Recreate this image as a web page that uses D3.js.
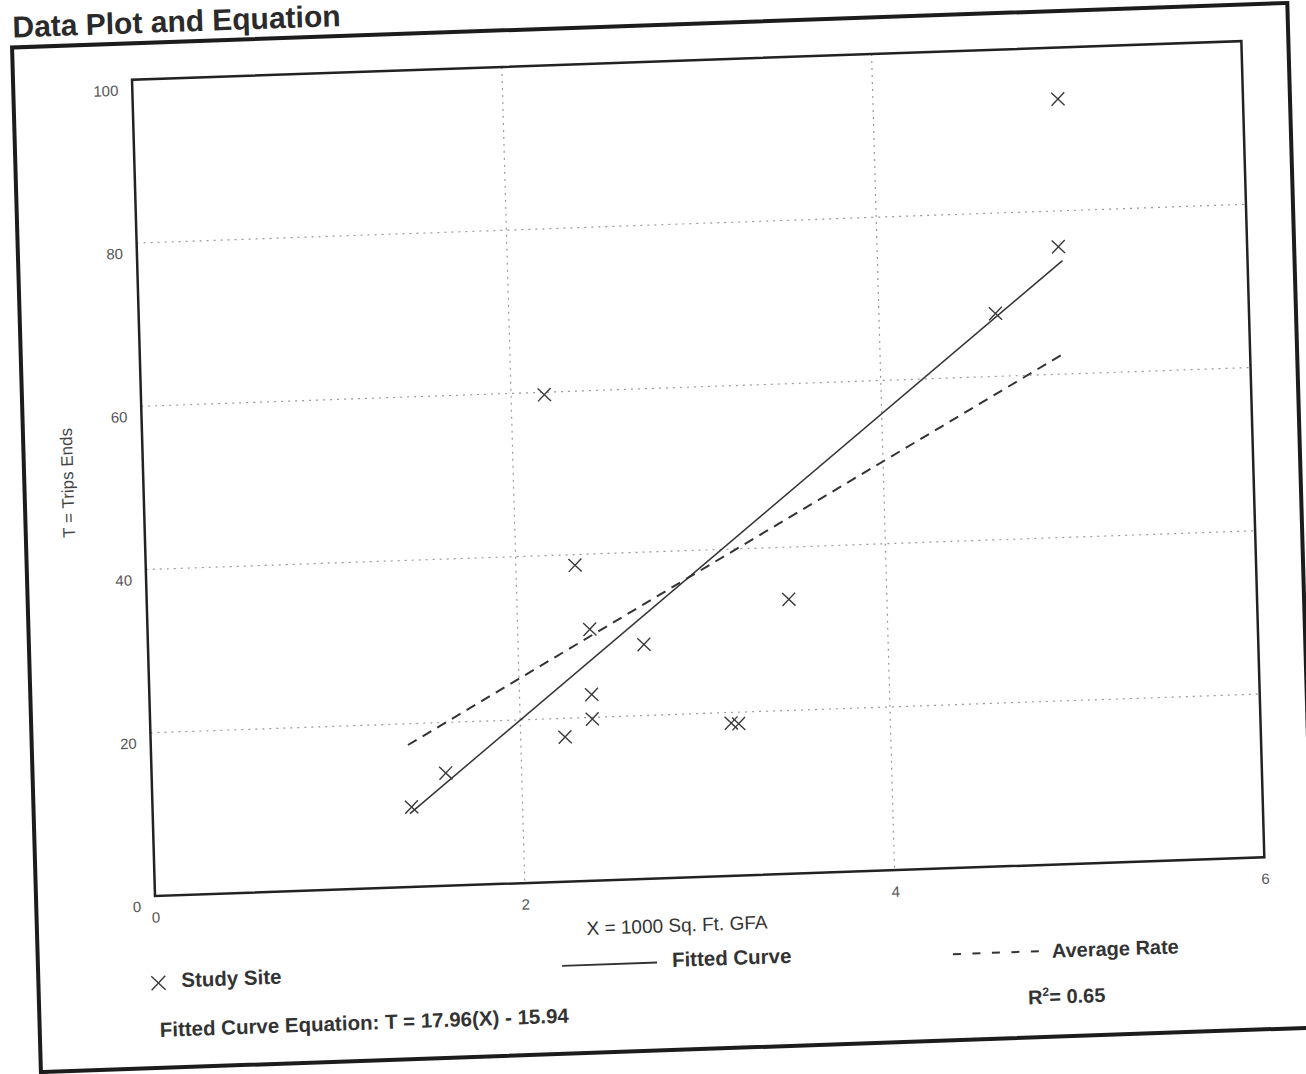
<!DOCTYPE html>
<html>
<head>
<meta charset="utf-8">
<script src="https://cdn.jsdelivr.net/npm/d3@7/dist/d3.min.js"></script>
<style>
  body { margin: 0; background: #fff; }
  svg { display: block; }
</style>
</head>
<body>
<div id="chart"></div>
<script>
// datos
const siteX = [5.00, 4.98, 4.63, 2.18, 2.32, 2.39, 3.47, 2.68, 2.39, 2.39, 2.24, 3.14, 3.18, 1.59, 1.40]
const siteT = [93.7, 75.6, 67.7, 59.7, 38.7, 30.8, 33.6, 28.7, 22.8, 19.8, 17.7, 18.7, 18.6, 13.8, 9.8]
const fittedLine = [[1.39, 9.0], [5.0, 73.9]]
const averageLine = [[1.39, 17.4], [5.0, 62.6]]
const xTicks = [0, 2, 4, 6]
const yTicks = [0, 20, 40, 60, 80, 100]
const xGrid = [2, 4]
const yGrid = [20, 40, 60, 80]

const W = 1306, H = 1074
const plot = { left: 155, right: 1265, top: 79.5, bottom: 896 }

const svg = d3.select('#chart').append('svg')
  .attr('width', W).attr('height', H)

// la hoja escaneada esta un poco girada
const g = svg.append('g')
  .attr('transform', `translate(${plot.left},${plot.bottom}) matrix(0.99939,-0.0349,0.02814,0.9996,0,0) translate(${-plot.left},${-plot.bottom})`)

const x = d3.scaleLinear().domain([0, 6]).range([plot.left, plot.right])
const y = d3.scaleLinear().domain([0, 100]).range([plot.bottom, plot.top])

// titulo y marco exterior
g.append('text')
  .attr('x', 37).attr('y', 33)
  .attr('font-family', 'Liberation Sans, Arial, sans-serif')
  .attr('font-weight', 'bold')
  .attr('font-size', 30)
  .attr('fill', '#2a2a2a')
  .text('Data Plot and Equation')

g.append('rect')
  .attr('x', 36).attr('y', 43)
  .attr('width', 1276).attr('height', 1025)
  .attr('fill', 'none')
  .attr('stroke', '#1c1c1c')
  .attr('stroke-width', 4)

// rejilla punteada
g.append('g').selectAll('line')
  .data(yGrid)
  .join('line')
  .attr('x1', plot.left).attr('x2', plot.right)
  .attr('y1', d => y(d)).attr('y2', d => y(d))
  .attr('stroke', '#999')
  .attr('stroke-width', 1.2)
  .attr('stroke-dasharray', '2,5')

g.append('g').selectAll('line')
  .data(xGrid)
  .join('line')
  .attr('x1', d => x(d)).attr('x2', d => x(d))
  .attr('y1', plot.top).attr('y2', plot.bottom)
  .attr('stroke', '#999')
  .attr('stroke-width', 1.2)
  .attr('stroke-dasharray', '2,5')

// ejes sin marcas
const xAxis = g.append('g')
  .attr('transform', `translate(0,${plot.bottom})`)
  .call(d3.axisBottom(x).tickValues(xTicks).tickSize(0).tickPadding(16).tickFormat(d3.format('d')))
xAxis.select('.domain').remove()

const yAxis = g.append('g')
  .attr('transform', `translate(${plot.left},0)`)
  .call(d3.axisLeft(y).tickValues(yTicks).tickSize(0).tickPadding(14).tickFormat(d3.format('d')))
yAxis.select('.domain').remove()
yAxis.selectAll('text').attr('dy', '1em')

g.selectAll('.tick text')
  .attr('font-family', 'Liberation Sans, Arial, sans-serif')
  .attr('font-size', 15)
  .attr('fill', '#555')

// marco del grafico
g.append('rect')
  .attr('x', plot.left).attr('y', plot.top)
  .attr('width', plot.right - plot.left).attr('height', plot.bottom - plot.top)
  .attr('fill', 'none')
  .attr('stroke', '#222')
  .attr('stroke-width', 2.5)

// lineas: curva ajustada y tasa media
const line = d3.line().x(d => x(d[0])).y(d => y(d[1]))

g.append('path')
  .attr('d', line(averageLine))
  .attr('fill', 'none')
  .attr('stroke', '#333')
  .attr('stroke-width', 2)
  .attr('stroke-dasharray', '10,7')

g.append('path')
  .attr('d', line(fittedLine))
  .attr('fill', 'none')
  .attr('stroke', '#333')
  .attr('stroke-width', 1.5)

// cruces de los sitios
const cross = (sel, s) => sel.append('path')
  .attr('d', `M${-s},${-s}L${s},${s}M${-s},${s}L${s},${-s}`)
  .attr('fill', 'none')
  .attr('stroke', '#3a3a3a')
  .attr('stroke-width', 1.4)

const sites = siteX.map((d, i) => ({ x: d, t: siteT[i] }))
g.append('g').selectAll('g')
  .data(sites)
  .join('g')
  .attr('transform', d => `translate(${x(d.x)},${y(d.t)})`)
  .call(sel => cross(sel, 6.5))

// titulos de ejes
const label = (txt, px, py, size, bold) => g.append('text')
  .attr('x', px).attr('y', py)
  .attr('font-family', 'Liberation Sans, Arial, sans-serif')
  .attr('font-size', size)
  .attr('font-weight', bold ? 'bold' : 'normal')
  .attr('fill', '#333')
  .text(txt)

label('X = 1000 Sq. Ft. GFA', 676, 950, 19, false).attr('text-anchor', 'middle')

g.append('text')
  .attr('transform', 'translate(85,480) rotate(-90)')
  .attr('text-anchor', 'middle')
  .attr('font-family', 'Liberation Sans, Arial, sans-serif')
  .attr('font-size', 17)
  .attr('fill', '#444')
  .text('T = Trips Ends')

// leyenda
g.append('g').attr('transform', 'translate(156,983)').call(sel => cross(sel, 7))
label('Study Site', 179, 988, 20.5, true)
label('Fitted Curve Equation: T = 17.96(X) - 15.94', 156, 1037, 20.5, true)

g.append('line')
  .attr('x1', 560).attr('x2', 655).attr('y1', 980).attr('y2', 980)
  .attr('stroke', '#333').attr('stroke-width', 1.8)
label('Fitted Curve', 670, 985, 20.5, true)

g.append('line')
  .attr('x1', 951).attr('x2', 1040).attr('y1', 982).attr('y2', 982)
  .attr('stroke', '#333').attr('stroke-width', 2)
  .attr('stroke-dasharray', '8,11.5')
label('Average Rate', 1050, 989, 20, true)

const r2 = label('R', 1025, 1035, 20, true)
r2.append('tspan').attr('font-size', 12).attr('dy', -8).text('2')
r2.append('tspan').attr('dy', 8).text('= 0.65')
</script>
</body>
</html>
